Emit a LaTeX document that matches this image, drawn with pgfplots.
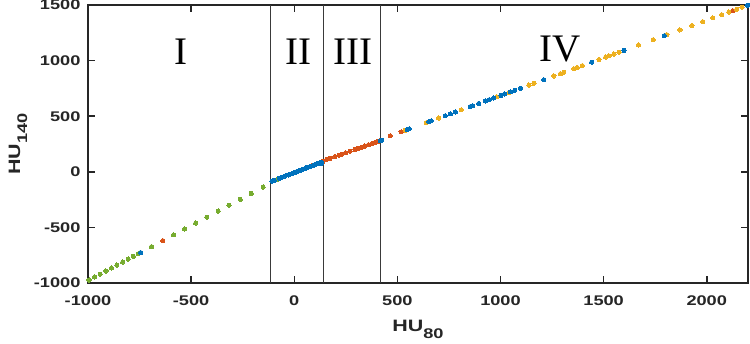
\documentclass[border=0pt]{standalone}
\usepackage{pgfplots}
\pgfplotsset{compat=1.18}
\usepackage{fontspec}
\setmainfont{Liberation Sans}[FakeStretch=1.3]
\newfontfamily\romanfont{Liberation Serif}

\definecolor{mblue}{HTML}{0072BD}
\definecolor{morange}{HTML}{D95319}
\definecolor{myellow}{HTML}{EDB120}
\definecolor{mgreen}{HTML}{77AC30}
\definecolor{axgray}{HTML}{262626}
\definecolor{linegray}{HTML}{3A3A3A}

\pgfplotsset{
  dots/.style={only marks, mark=*, mark size=2.1pt, color=#1,
    mark options={fill=#1, draw=#1, line width=0pt}},
}

\begin{document}
\begin{tikzpicture}
\begin{axis}[
  scale only axis, width=660pt, height=278pt,
  xmin=-1000, xmax=2200, ymin=-1000, ymax=1500,
  xtick={-1000,-500,0,500,1000,1500,2000},
  ytick={-1000,-500,0,500,1000,1500},
  tick align=inside, major tick length=7pt,
  axis line style={line width=2pt, color=axgray},
  every tick/.style={line width=1.5pt, color=axgray},
  tick label style={font=\bfseries\fontsize{14}{14}\selectfont, text=axgray},
  xticklabel style={yshift=-9pt},
  yticklabel style={xshift=-4pt},
  /pgf/number format/assume math mode=true,
  /pgf/number format/1000 sep={},
  scaled ticks=false,
  xlabel={\bfseries HU\raisebox{-7pt}{\fontsize{14}{14}\selectfont 80}},
  ylabel={\bfseries HU\raisebox{-7pt}{\fontsize{14}{14}\selectfont 140}},
  label style={font=\bfseries\fontsize{16.5}{16.5}\selectfont, text=axgray},
  xlabel style={at={(axis description cs:0.5,-0.176)}, anchor=base},
  ylabel style={at={(axis description cs:-0.103,0.5)}, anchor=base},
]
% region boundaries
\addplot[line width=0.8pt, color=linegray] coordinates {(-115,-1000) (-115,1500)};
\addplot[line width=0.8pt, color=linegray] coordinates {(140,-1000) (140,1500)};
\addplot[line width=0.8pt, color=linegray] coordinates {(420,-1000) (420,1500)};

% lung / air
\addplot[dots=mgreen] coordinates {
  (-995,-973) (-968,-946) (-941,-920) (-913,-892) (-886,-865) (-860,-839)
  (-832,-812) (-805,-785) (-780,-760) (-757,-737) (-692,-673) (-585,-567)
  (-532,-515) (-478,-461) (-424,-408) (-369,-353) (-316,-301) (-262,-247)
  (-209,-195) (-151,-137) (-86,-72) (-29,-28)
};
% soft tissue
\addplot[dots=morange] coordinates {
  (-637,-619) (-5,-11) (84,53) (140,94)
  (157,111) (173,121) (197,137) (217,150) (230,159) (249,171)
  (270,185) (295,201) (311,211) (327,222) (343,232) (360,243) (376,253)
  (389,262) (400,269) (413,277) (465,323) (518,359) (2126,1449)
};
% bone
\addplot[dots=myellow] coordinates {
  (538,373) (640,442) (700,483) (810,557) (983,674) (1040,713)
  (1138,780) (1162,796) (1259,862) (1291,883) (1307,894) (1356,927)
  (1372,938) (1397,955) (1478,1010) (1510,1032) (1526,1043) (1550,1059)
  (1575,1076) (1669,1140) (1740,1188) (1807,1233) (1870,1276) (1928,1315)
  (1980,1350) (2029,1384) (2072,1413) (2107,1437) (2145,1462) (2171,1480)
};
% contrast
\addplot[dots=mblue] coordinates {
  (-745,-726)
  (-108,-84) (-97,-76) (-72,-58) (-60,-50) (-44,-38) (-30,-28) (-20,-21)
  (-8,-13) (2,-6) (12,2) (22,8) (34,17) (44,24) (55,32) (64,39) (74,45)
  (88,55) (96,62) (108,70) (120,78) (128,84) (124,72) (133,76)
  (418,281) (424,285) (548,380) (557,386)
  (653,451) (664,458) (732,504) (757,521) (781,538) (854,587) (865,594)
  (894,614) (927,637) (946,649) (967,664) (1002,687) (1020,700) (1048,719)
  (1069,733) (1097,752) (1210,828) (1442,986) (1599,1092) (1794,1224)
  (2198,1498)
};

\node[font=\romanfont\fontsize{39}{39}\selectfont, text=black] at (axis cs:-548,1084) {I};
\node[font=\romanfont\fontsize{39}{39}\selectfont, text=black] at (axis cs:19,1084) {II};
\node[font=\romanfont\fontsize{39}{39}\selectfont, text=black] at (axis cs:287,1084) {III};
\node[font=\romanfont\fontsize{39}{39}\selectfont, text=black] at (axis cs:1291,1100) {IV};
\end{axis}
\pgfresetboundingbox
\path[use as bounding box] ([xshift=-88pt,yshift=-60pt]current axis.south west)
  rectangle ([xshift=2pt,yshift=5pt]current axis.north east);
\end{tikzpicture}
\end{document}
